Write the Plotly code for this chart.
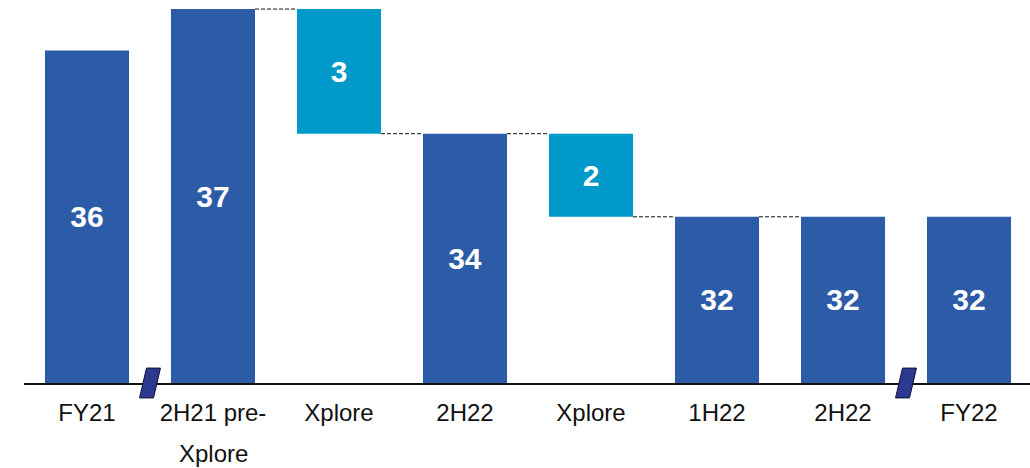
import plotly.graph_objects as go

# ---- data ----
categories = ["FY21", "2H21 pre-", "Xplore", "2H22", "Xplore", "1H22", "2H22", "FY22"]
label_second_line = {1: "Xplore"}
values = [36, 37, 3, 34, 2, 32, 32, 32]
kinds = ["total", "total", "delta", "total", "delta", "total", "total", "total"]
axis_min = 28
# connectors drawn between bar i and i+1 at a given level
connectors = [(1, 37), (2, 34), (3, 34), (4, 32), (5, 32)]
breaks = [0.5, 6.5]

DARK = "#2C5BA8"
LIGHT = "#009ACA"
FONT = "Arial, Liberation Sans, sans-serif"

x = list(range(len(values)))
bases, heights, colors = [], [], []
for i, (v, k) in enumerate(zip(values, kinds)):
    if k == "total":
        bases.append(axis_min)
        heights.append(v - axis_min)
        colors.append(DARK)
    else:
        nxt = values[i + 1]
        bases.append(nxt)
        heights.append(v)
        colors.append(LIGHT)

fig = go.Figure()
fig.add_trace(go.Bar(
    x=x, y=heights, base=bases,
    marker=dict(color=colors, line=dict(width=0)),
    text=[str(v) for v in values],
    textposition="inside", insidetextanchor="middle", textangle=0,
    textfont=dict(family=FONT, size=30, color="white", weight="bold"),
    hoverinfo="skip",
))

half = (1 - 0.333) / 2
shapes = []
for i, lvl in connectors:
    shapes.append(dict(type="line", xref="x", yref="y",
                       x0=i + half, x1=i + 1 - half, y0=lvl, y1=lvl,
                       line=dict(color="#111111", width=1, dash="4px,2px")))
for b in breaks:
    dxs, dxl = 0.028, 0.083
    dy = 0.039
    path = (f"M {b-dxs} {dy} L {b+dxl} {dy} L {b+dxs} {-dy} L {b-dxl} {-dy} Z")
    shapes.append(dict(type="path", xref="x", yref="paper", path=path,
                       fillcolor="#2B3A8F", line=dict(color="#111133", width=1),
                       layer="above"))

annotations = []
for i, t in label_second_line.items():
    annotations.append(dict(x=i, y=0, xref="x", yref="paper", text=t,
                            showarrow=False, yanchor="top", yshift=-55,
                            font=dict(family=FONT, size=24, color="#111111")))

fig.update_layout(
    width=1030, height=468,
    margin=dict(l=24, r=0, t=0, b=85),
    paper_bgcolor="white", plot_bgcolor="white",
    showlegend=False, bargap=0.333,
    shapes=shapes, annotations=annotations,
    xaxis=dict(range=[-0.5, 7.484], tickvals=x, ticktext=categories,
               showgrid=False, zeroline=False, showline=True,
               linecolor="#111111", linewidth=1.5, ticks="",
               ticklabelstandoff=7,
               tickfont=dict(family=FONT, size=24, color="#111111")),
    yaxis=dict(range=[axis_min, axis_min + 383 / 41.55], visible=False,
               showgrid=False, zeroline=False),
)

fig.write_html("out.html")
